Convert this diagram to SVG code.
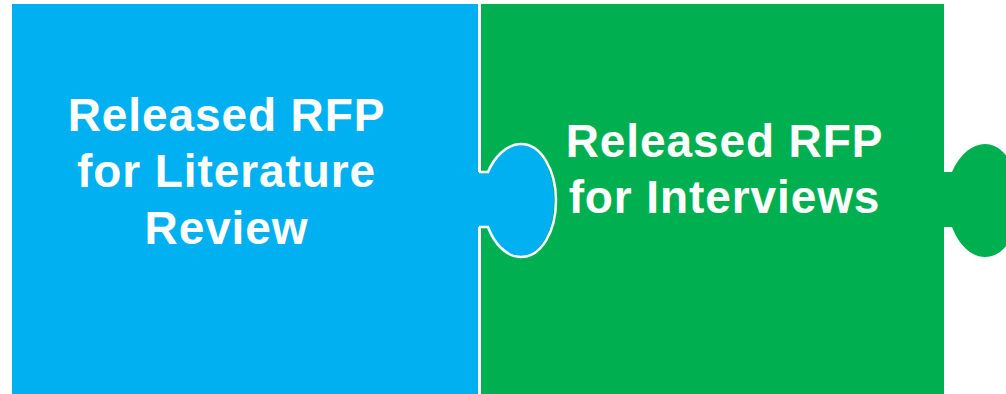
<svg xmlns="http://www.w3.org/2000/svg" width="1006" height="394" viewBox="0 0 1006 394">
<defs>
<style>
.lbl{font-family:"Liberation Sans",Arial,sans-serif;font-weight:bold;font-size:46px;letter-spacing:0.9px;fill:#FFFFFF;text-anchor:middle}
.blue{fill:#00B0F0}
.green{fill:#00B050}
.edge{fill:none;stroke:#FFFFFF;stroke-width:2.5}
</style>
<path id="tab" d="M0,172 L9,172 C15,158 27,144 42,144 C62,144 77,170 77,200.5 C77,232 62,257 42,257 C27,257 15,243 9,227 L0,227 Z"/>
<path id="tabEdge" d="M0,172 L9,172 C15,158 27,144 42,144 C62,144 77,170 77,200.5 C77,232 62,257 42,257 C27,257 15,243 9,227 L0,227"/>
</defs>
<rect width="1006" height="394" fill="#FFFFFF"/>
<g id="piece-interviews">
<rect class="green" x="481" y="4" width="463" height="390"/>
<use href="#tab" x="943" class="green"/>
<text class="lbl" x="724.5" y="157">Released RFP</text>
<text class="lbl" x="724.5" y="213">for Interviews</text>
</g>
<g id="piece-literature">
<rect class="blue" x="12" y="4" width="466" height="390"/>
<use href="#tab" x="477" class="blue"/>
<use href="#tabEdge" x="479" class="edge"/>
<text class="lbl" x="226.5" y="131">Released RFP</text>
<text class="lbl" x="226.5" y="187">for Literature</text>
<text class="lbl" x="226.5" y="244">Review</text>
</g>
<g id="connectors"/>
</svg>
